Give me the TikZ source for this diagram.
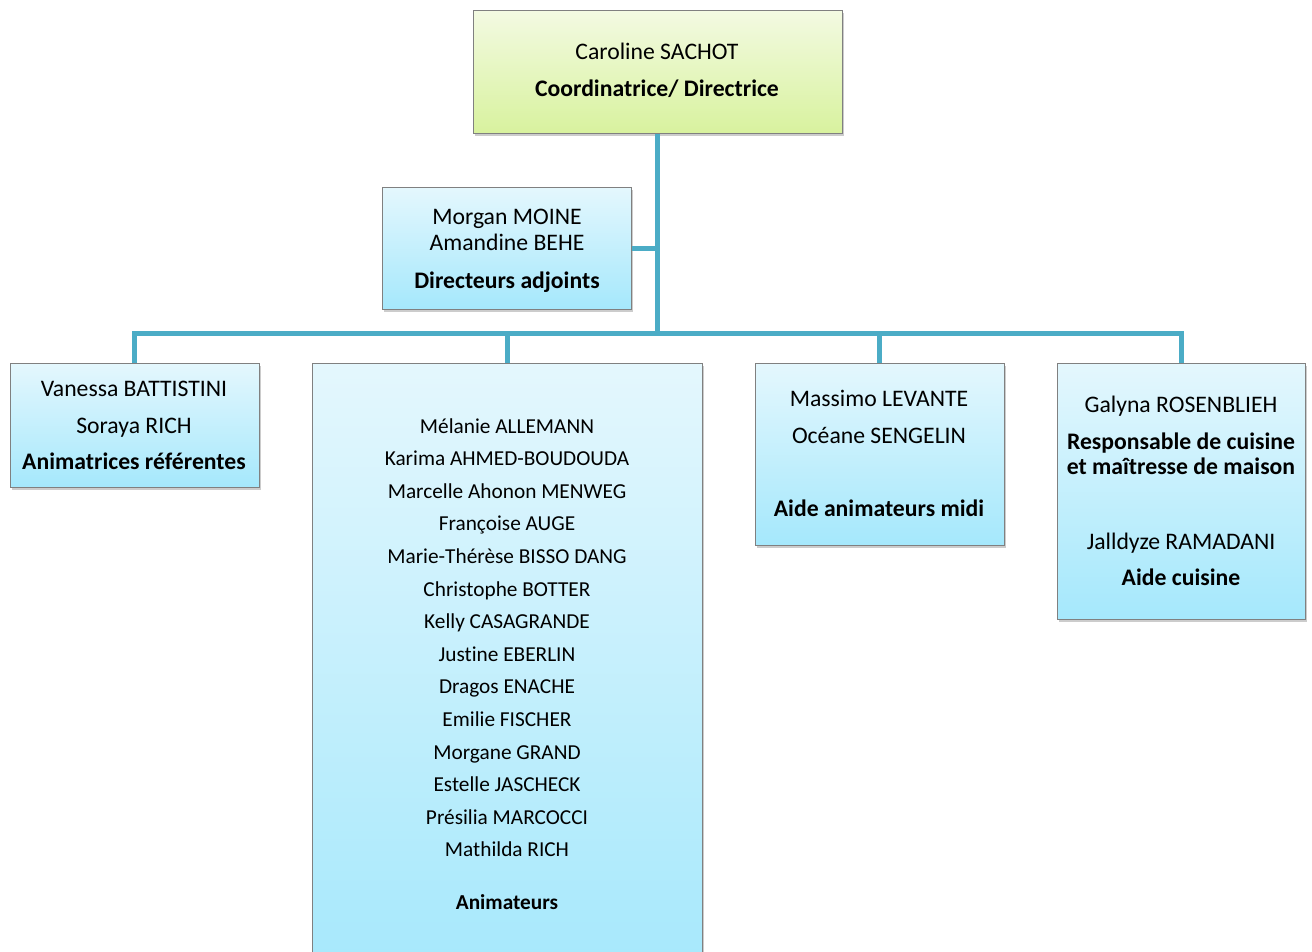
\documentclass[tikz,border=0pt]{standalone}
\usepackage{fontspec}
\setmainfont{Carlito}[Ligatures={NoCommon}]
\usetikzlibrary{shadows}
\definecolor{connc}{HTML}{4BACC6}
\definecolor{bluetop}{HTML}{E4F7FD}
\definecolor{bluebot}{HTML}{A5E8FC}
\definecolor{greentop}{HTML}{F3FAE2}
\definecolor{greenbot}{HTML}{D8F29E}
\definecolor{edgec}{HTML}{808080}
\begin{document}
\begin{tikzpicture}[x=1pt,y=-1pt,
  box/.style={draw=edgec, line width=0.8pt, rectangle, inner sep=0pt, anchor=north west,
    drop shadow={shadow xshift=2pt, shadow yshift=-3pt, opacity=0.4}},
  bluebox/.style={box, top color=bluetop, bottom color=bluebot},
  greenbox/.style={box, top color=greentop, bottom color=greenbot},
  conn/.style={draw=connc, line width=5pt, line join=miter},
  nm/.style={font=\fontsize{23.7}{26}\selectfont, anchor=base, inner sep=0pt},
  nb/.style={nm, font=\fontsize{23.7}{26}\selectfont\bfseries},
  ln/.style={font=\fontsize{21.3}{24}\selectfont, anchor=base, inner sep=0pt},
  lb/.style={ln, font=\fontsize{21.3}{24}\selectfont\bfseries}]
\clip (0,0) rectangle (1312,952);
\useasboundingbox (0,0) rectangle (1312,952);

% boxes
\node[greenbox, minimum width=369pt, minimum height=123pt] (top) at (473,10) {};
\node[bluebox, minimum width=249pt, minimum height=122pt] (dep) at (382,187) {};
\node[bluebox, minimum width=249pt, minimum height=124pt] (ref) at (10,363) {};
\node[bluebox, minimum width=390pt, minimum height=620pt] (ani) at (312,363) {};
\node[bluebox, minimum width=249pt, minimum height=182pt] (mid) at (755,363) {};
\node[bluebox, minimum width=248pt, minimum height=256pt] (cui) at (1057,363) {};

% connectors
\coordinate (bus) at (657,333);
\draw[conn] (top.south) -- (top.south |- bus);
\draw[conn] (ref.north) -- (ref.north |- bus) -- (cui.north |- bus) -- (cui.north);
\draw[conn] (ani.north |- bus) -- (ani.north);
\draw[conn] (mid.north |- bus) -- (mid.north);
\draw[conn] (dep.east) -- (dep.east -| bus);

% texts: top
\node[nm] (t1) at (657,60) {Caroline SACHOT};
\node[nb] (t2) at (657,97) {Coordinatrice/ Directrice};
% deputies
\node[nm] (d1) at (507,225) {Morgan MOINE};
\node[nm] (d2) at (507,251) {Amandine BEHE};
\node[nb] (d3) at (507,288) {Directeurs adjoints};
% referents
\node[nm] (r1) at (134,396) {Vanessa BATTISTINI};
\node[nm] (r2) at (134,433) {Soraya RICH};
\node[nb] (r3) at (134,469) {Animatrices référentes};
% animateurs
\foreach \n [count=\i from 0] in {Mélanie ALLEMANN,Karima AHMED-BOUDOUDA,Marcelle Ahonon MENWEG,Françoise AUGE,Marie-Thérèse BISSO DANG,Christophe BOTTER,Kelly CASAGRANDE,Justine EBERLIN,Dragos ENACHE,Emilie FISCHER,Morgane GRAND,Estelle JASCHECK,Présilia MARCOCCI,Mathilda RICH}
  \node[ln] (a\i) at (507,{433+32.6*\i}) {\n};
\node[lb] (a14) at (507,909) {Animateurs};
% midi
\node[nm] (m1) at (879,406) {Massimo LEVANTE};
\node[nm] (m2) at (879,443) {Océane SENGELIN};
\node[nb] (m3) at (879,516) {Aide animateurs midi};
% cuisine
\node[nm] (c1) at (1181,412) {Galyna ROSENBLIEH};
\node[nb] (c2) at (1181,449) {Responsable de cuisine};
\node[nb] (c3) at (1181,474) {et maîtresse de maison};
\node[nm] (c4) at (1181,549) {Jalldyze RAMADANI};
\node[nb] (c5) at (1181,585) {Aide cuisine};
\end{tikzpicture}
\end{document}
